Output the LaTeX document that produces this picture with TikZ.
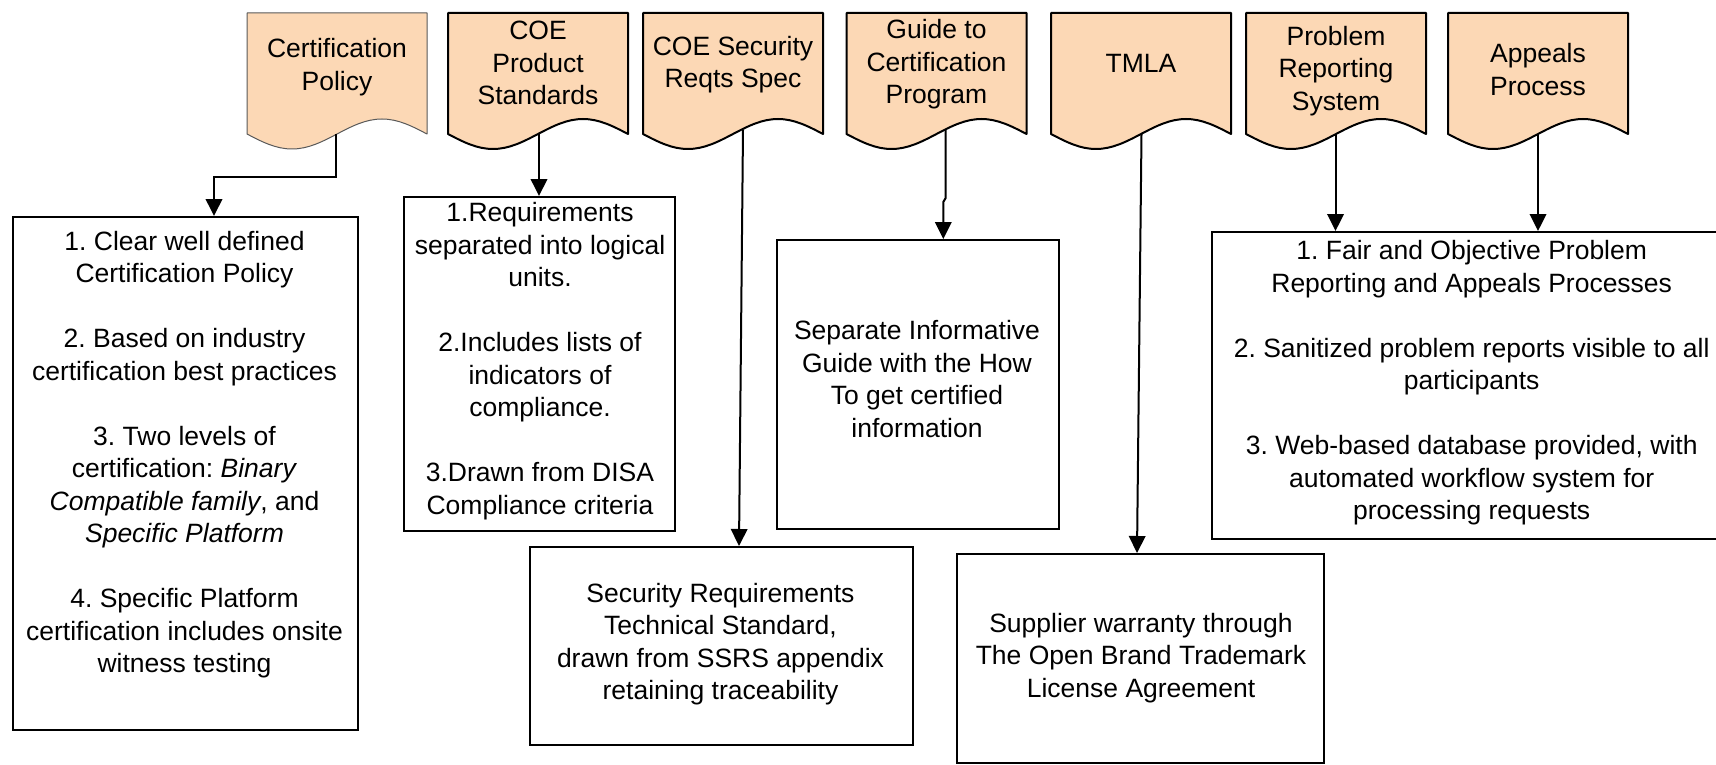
\documentclass[tikz,border=0pt]{standalone}
\usepackage{fontspec}
\setmainfont{Liberation Sans}
\usetikzlibrary{arrows.meta}
\definecolor{peach}{RGB}{252,216,181}
\tikzset{
  docbold/.style={fill=peach, draw=black, line width=2pt, line join=round},
  docthin/.style={fill=peach, draw=black!65, line width=1pt, line join=round},
  box/.style={draw=black, line width=2.2pt, rectangle, inner sep=0pt, anchor=north west},
  txt/.style={align=center, inner sep=0pt, font=\fontsize{26.5}{32.5}\selectfont\frenchspacing},
  arr/.style={line width=2pt, -{Triangle[length=17pt,width=16.5pt]}},
}
\newcommand\docshape[2]{%
  \draw[#2] (#1,13) -- (#1+180,13) -- (#1+180,134)
    sin (#1+135,119) cos (#1+90,134) sin (#1+45,149) cos (#1,134) -- cycle;}
\begin{document}
\begin{tikzpicture}[x=1pt,y=-1pt]
\useasboundingbox (0,0) rectangle (1716,765);
\clip (0,0) rectangle (1716,765);

% document shapes
\docshape{247}{docthin}
\docshape{448}{docbold}
\docshape{643}{docbold}
\docshape{846.5}{docbold}
\docshape{1051}{docbold}
\docshape{1246}{docbold}
\docshape{1448}{docbold}

\node[txt] (cpt) at (337,67) {Certification\\Policy};
\node[txt] (pst) at (538,63) {COE\\Product\\Standards};
\node[txt] (sst) at (733,64.5) {COE Security\\Reqts Spec};
\node[txt] (gct) at (936.5,64.5) {Guide to\\Certification\\Program};
\node[txt] (tmt) at (1141,63.8) {TMLA};
\node[txt] (prt) at (1336,71) {Problem\\Reporting\\System};
\node[txt] (apt) at (1538,69.5) {Appeals\\Process};

% connector start points on the wavy edges
\coordinate (cpw) at (336,134);
\coordinate (psw) at (539,134);
\coordinate (ssw) at (743,129.5);
\coordinate (gcw) at (945.7,129.5);
\coordinate (tmw) at (1141.5,134);
\coordinate (prw) at (1335.5,134);
\coordinate (apw) at (1538,134);

% lower boxes
\node[box, minimum width=345pt, minimum height=513pt] (cbox) at (12,216) {};
\node[box, minimum width=271pt, minimum height=334pt] (pbox) at (403,196) {};
\node[box, minimum width=383pt, minimum height=198pt] (sbox) at (529,546) {};
\node[box, minimum width=282pt, minimum height=289pt] (gbox) at (776,239) {};
\node[box, minimum width=367pt, minimum height=209pt] (tbox) at (956,553) {};
\node[box, minimum width=521pt, minimum height=307pt] (rbox) at (1211,231) {};

\node[txt] (ctxt) at (184.5,454.5) {1. Clear well defined\\Certification Policy\\[32.5pt]2. Based on industry\\certification best practices\\[32.5pt]3. Two levels of\\certification: \textit{Binary}\\\textit{Compatible family}, and\\\textit{Specific Platform}\\[32.5pt]4. Specific Platform\\certification includes onsite\\witness testing};
\node[txt] (ptxt) at (540,361) {1.Requirements\\separated into logical\\units.\\[32.5pt]2.Includes lists of\\indicators of\\compliance.\\[32.5pt]3.Drawn from DISA\\Compliance criteria};
\node[txt] (stxt) at (720.5,644) {Security Requirements\\Technical Standard,\\drawn from SSRS appendix\\retaining traceability};
\node[txt] (gtxt) at (917,379) {Separate Informative\\Guide with the How\\To get certified\\information};
\node[txt] (ttxt) at (1141,658) {Supplier warranty through\\The Open Brand Trademark\\License Agreement};
\node[txt] (rtxt) at (1471.7,383) {1. Fair and Objective Problem\\Reporting and Appeals Processes\\[32.5pt]2. Sanitized problem reports visible to all\\participants\\[32.5pt]3. Web-based database provided, with\\automated workflow system for\\processing requests};

% connector end points
\coordinate (cin) at (214,216);
\coordinate (secin) at (739,546);
\coordinate (gin) at (943.3,239);
\coordinate (tin) at (1137,553);

% connectors
\draw[arr] (cpw) |- (214,177) -- (cin);
\draw[arr] (psw) -- (psw |- pbox.north);
\draw[arr] (ssw) -- (secin);
\draw[arr] (gcw) -- (945.7,198) -- (943.3,202) -- (gin);
\draw[arr] (tmw) -- (tin);
\draw[arr] (prw) -- (prw |- rbox.north);
\draw[arr] (apw) -- (apw |- rbox.north);
\end{tikzpicture}
\end{document}
